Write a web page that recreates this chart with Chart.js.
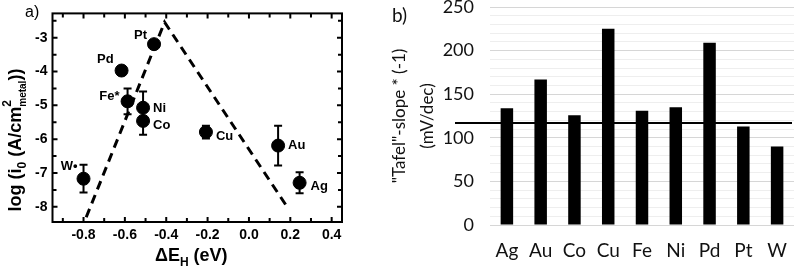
<!DOCTYPE html>
<html>
<head>
<meta charset="utf-8" />
<title>Volcano ja Tafel</title>
<script src="https://cdn.jsdelivr.net/npm/chart.js@4.4.0/dist/chart.umd.min.js"></script>
<style>
  body { margin: 0; background: #fff; }
  #wrap { position: relative; width: 796px; height: 267px; }
  #kastA { position: absolute; left: 0; top: 0; width: 385px; height: 267px; }
  #kastB { position: absolute; left: 385px; top: 0; width: 411px; height: 267px; }
</style>
</head>
<body>
<div id="wrap">
  <div id="kastA"><canvas id="joonisA"></canvas></div>
  <div id="kastB"><canvas id="joonisB"></canvas></div>
</div>
<script>
// a) volcano plot
const silt = ["W•", "Pd", "Pt", "Fe*", "Ni", "Co", "Cu", "Au", "Ag"];
const deltaE = [-0.80, -0.616, -0.459, -0.587, -0.512, -0.512, -0.208, 0.141, 0.245];
const logI0 = [-7.17, -3.97, -3.19, -4.88, -5.07, -5.46, -5.79, -6.19, -7.29];
const viga = [0.41, 0, 0, 0.38, 0.48, 0.41, 0.19, 0.59, 0.31];
const vulkaanX = [-0.787, -0.408, 0.19];
const vulkaanY = [-8.31, -2.54, -8.05];
const xTikid = [-0.8, -0.6, -0.4, -0.2, 0.0, 0.2, 0.4];
const yTikid = [-8, -7, -6, -5, -4, -3];

// b) Tafel slopes
const kategooriad = ["Ag", "Au", "Co", "Cu", "Fe", "Ni", "Pd", "Pt", "W"];
const tafel = [134, 167, 126, 225, 131, 135, 209, 113, 90];
const tafelJoon = 117;

// label offsets next to the points (px): dx, dy, align
const siltNihe = [
  [-6, -12, "right"], [-8, -11, "right"], [-7, -9, "right"], [-8, -5, "right"],
  [10, 1, "left"], [10, 5, "left"], [10, 4, "left"], [10, 0, "left"], [11, 4, "left"]
];

const ARIAL = "'Liberation Sans', Arial, sans-serif";
const CALI = "Lato, 'Open Sans', sans-serif";

function tekstiJupid(ctx, jupid, x0, y0) {
  // draws pieces of text with sub/superscripts, returns end x
  let x = x0;
  for (const j of jupid) {
    if (j.koos) {
      let w = 0;
      for (const k of j.koos) {
        ctx.font = k.font;
        ctx.fillText(k.t, x, y0 + k.dy);
        w = Math.max(w, ctx.measureText(k.t).width);
      }
      x += w;
    } else {
      ctx.font = j.font;
      ctx.fillText(j.t, x, y0 + (j.dy || 0));
      x += ctx.measureText(j.t).width;
    }
  }
  return x;
}
function jupiLaius(ctx, jupid) {
  let w = 0;
  for (const j of jupid) {
    if (j.koos) {
      let m = 0;
      for (const k of j.koos) { ctx.font = k.font; m = Math.max(m, ctx.measureText(k.t).width); }
      w += m;
    } else { ctx.font = j.font; w += ctx.measureText(j.t).width; }
  }
  return w;
}

const raamA = {
  id: "raamA",
  afterDatasetsDraw(chart) {
    const { ctx, chartArea: ca, scales: { x, y } } = chart;
    ctx.save();
    ctx.strokeStyle = "#000";
    ctx.fillStyle = "#000";
    ctx.lineWidth = 2;
    // error bars
    deltaE.forEach((e, i) => {
      if (!viga[i]) return;
      const px = x.getPixelForValue(e);
      const y1 = y.getPixelForValue(logI0[i] + viga[i]);
      const y2 = y.getPixelForValue(logI0[i] - viga[i]);
      ctx.beginPath();
      ctx.moveTo(px, y1); ctx.lineTo(px, y2);
      ctx.moveTo(px - 4, y1); ctx.lineTo(px + 4, y1);
      ctx.moveTo(px - 4, y2); ctx.lineTo(px + 4, y2);
      ctx.stroke();
    });
    // frame with inward ticks
    ctx.strokeRect(ca.left, ca.top, ca.right - ca.left, ca.bottom - ca.top);
    ctx.beginPath();
    for (let k = -9; k <= 4; k++) {
      const px = x.getPixelForValue(k / 10);
      const l = k % 2 === 0 ? 5 : 4;
      ctx.moveTo(px, ca.bottom); ctx.lineTo(px, ca.bottom - l);
      ctx.moveTo(px, ca.top); ctx.lineTo(px, ca.top + l);
    }
    for (let k = -16; k <= -5; k++) {
      const py = y.getPixelForValue(k / 2);
      const l = k % 2 === 0 ? 5 : 4;
      ctx.moveTo(ca.left, py); ctx.lineTo(ca.left + l, py);
      ctx.moveTo(ca.right, py); ctx.lineTo(ca.right - l, py);
    }
    ctx.stroke();
    // point labels
    ctx.font = "bold 13px " + ARIAL;
    ctx.textBaseline = "middle";
    silt.forEach((s, i) => {
      const n = siltNihe[i];
      ctx.textAlign = n[2];
      ctx.fillText(s, x.getPixelForValue(deltaE[i]) + n[0], y.getPixelForValue(logI0[i]) + n[1]);
    });
    // axis titles
    ctx.textAlign = "left";
    ctx.textBaseline = "alphabetic";
    const suur = "bold 18px " + ARIAL, vaike = "bold 12px " + ARIAL, pisi = "bold 10px " + ARIAL;
    const xPealkiri = [{ t: "ΔE", font: suur }, { t: "H", font: vaike, dy: 5 }, { t: " (eV)", font: suur }];
    const xw = jupiLaius(ctx, xPealkiri);
    tekstiJupid(ctx, xPealkiri, (ca.left + ca.right) / 2 - 6 - xw / 2, 261);
    const yPealkiri = [
      { t: "log (i", font: suur }, { t: "0", font: vaike, dy: 5 }, { t: " (A/cm", font: suur },
      { koos: [{ t: "2", font: vaike, dy: -10 }, { t: "metal", font: pisi, dy: 5 }] },
      { t: "))", font: suur }
    ];
    const yw = jupiLaius(ctx, yPealkiri);
    ctx.translate(21, 140);
    ctx.rotate(-Math.PI / 2);
    tekstiJupid(ctx, yPealkiri, -yw / 2, 0);
    ctx.setTransform(1, 0, 0, 1, 0, 0);
    ctx.font = "16px " + ARIAL;
    ctx.fillText("a)", 25, 17);
    ctx.restore();
  }
};

new Chart(document.getElementById("joonisA"), {
  type: "scatter",
  data: {
    datasets: [
      {
        data: deltaE.map((e, i) => ({ x: e, y: logI0[i] })),
        backgroundColor: "#000",
        borderColor: "#000",
        pointRadius: 6.5,
        pointHoverRadius: 6.5
      },
      {
        type: "line",
        data: vulkaanX.map((e, i) => ({ x: e, y: vulkaanY[i] })),
        borderColor: "#000",
        borderWidth: 3,
        borderDash: [9, 6],
        pointRadius: 0,
        fill: false,
        tension: 0
      }
    ]
  },
  options: {
    responsive: true,
    maintainAspectRatio: false,
    animation: false,
    layout: { padding: { left: 0, top: 9, right: 43, bottom: 0 } },
    plugins: { legend: { display: false }, tooltip: { enabled: false } },
    scales: {
      x: {
        type: "linear",
        min: -0.95,
        max: 0.45,
        afterBuildTicks: s => { s.ticks = xTikid.map(v => ({ value: v })); },
        afterFit: s => { s.height = 45; },
        grid: { display: false, drawTicks: false },
        border: { display: false },
        ticks: {
          padding: 5,
          color: "#000",
          font: { family: ARIAL, size: 14, weight: "bold" },
          callback: v => v.toFixed(1)
        }
      },
      y: {
        min: -8.45,
        max: -2.28,
        afterBuildTicks: s => { s.ticks = yTikid.map(v => ({ value: v })); },
        afterFit: s => { s.width = 52.5; },
        grid: { display: false, drawTicks: false },
        border: { display: false },
        ticks: {
          padding: 5,
          color: "#000",
          font: { family: ARIAL, size: 14, weight: "bold" },
          callback: v => String(v)
        }
      }
    }
  },
  plugins: [raamA]
});

const joonB = {
  id: "joonB",
  afterDatasetsDraw(chart) {
    const { ctx, chartArea: ca, scales: { y } } = chart;
    ctx.save();
    const py = y.getPixelForValue(tafelJoon);
    ctx.strokeStyle = "#000";
    ctx.lineWidth = 2;
    ctx.beginPath();
    ctx.moveTo(ca.left - 35, py);
    ctx.lineTo(ca.right - 2, py);
    ctx.stroke();
    ctx.fillStyle = "#111";
    ctx.font = "19px " + CALI;
    ctx.textBaseline = "alphabetic";
    ctx.fillText("b)", 7, 22);
    ctx.restore();
  }
};

new Chart(document.getElementById("joonisB"), {
  type: "bar",
  data: {
    labels: kategooriad,
    datasets: [{
      data: tafel,
      backgroundColor: "#000",
      borderWidth: 0,
      categoryPercentage: 1,
      barPercentage: 0.37
    }]
  },
  options: {
    responsive: true,
    maintainAspectRatio: false,
    animation: false,
    layout: { padding: { left: 0, top: 7, right: 2, bottom: 0 } },
    plugins: { legend: { display: false }, tooltip: { enabled: false } },
    scales: {
      x: {
        afterFit: s => { s.height = 42; s.paddingLeft = 0; s.paddingRight = 0; },
        grid: { display: false, drawTicks: false },
        border: { display: false },
        ticks: { padding: 14, color: "#111", font: { family: CALI, size: 19 } }
      },
      y: {
        min: 0,
        max: 250,
        afterFit: s => { s.width = 105; s.paddingTop = 0; s.paddingBottom = 0; },
        grid: {
          drawTicks: false,
          color: c => (c.tick && c.tick.value % 50 === 0) ? "#d6d6d6" : "#eeeeee"
        },
        border: { display: false },
        ticks: {
          stepSize: 10,
          autoSkip: false,
          padding: 16,
          color: "#111",
          font: { family: CALI, size: 18 },
          callback: v => v % 50 === 0 ? v : ""
        },
        title: {
          display: true,
          text: ['"Tafel"-slope * (-1)', "(mV/dec)"],
          color: "#111",
          font: { family: CALI, size: 17, lineHeight: 1.6 },
          padding: { top: 1.4, bottom: 0 }
        }
      }
    }
  },
  plugins: [joonB]
});
</script>
</body>
</html>
